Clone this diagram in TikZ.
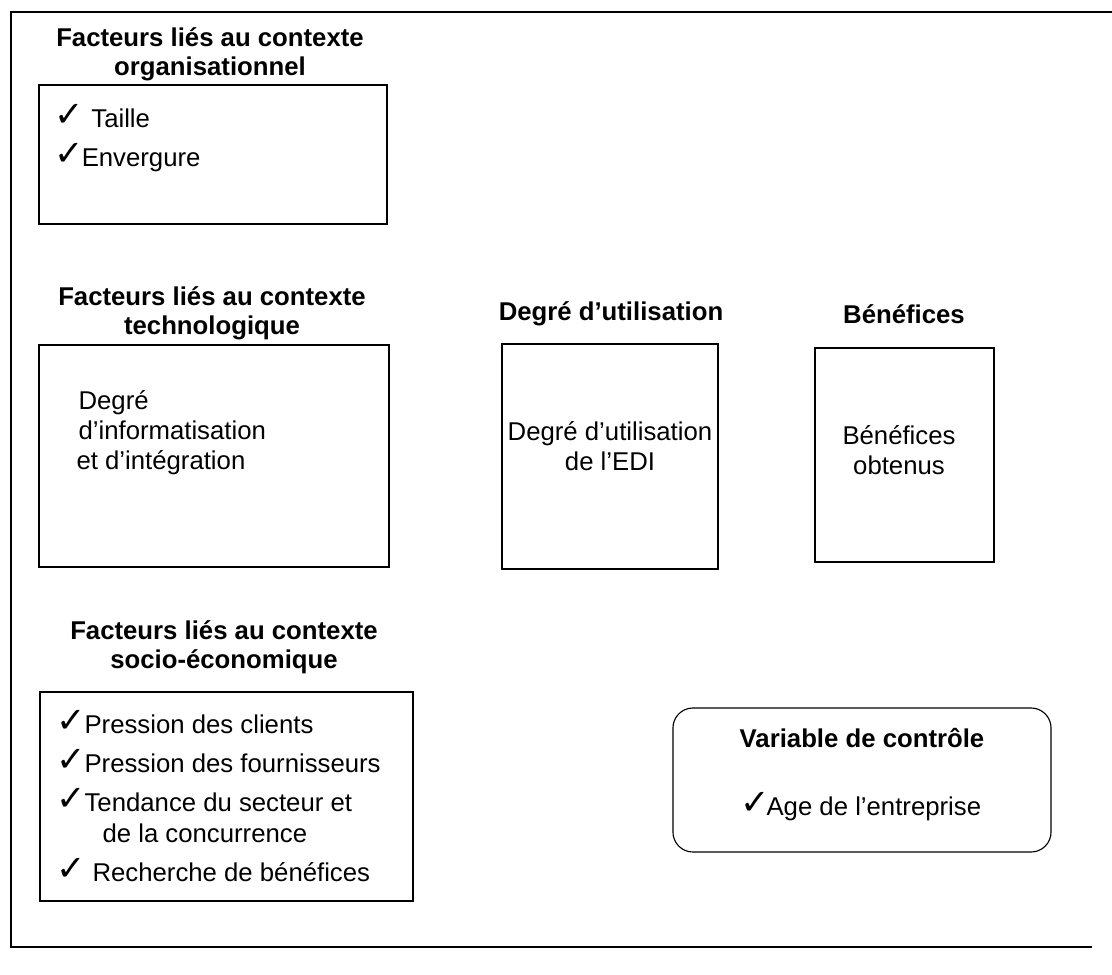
\documentclass[tikz,border=0pt]{standalone}
\usepackage{fontspec}
\setmainfont{Liberation Sans}
\newfontfamily\symbfont{DejaVu Sans}
\newcommand{\coche}{\makebox[0.6cm][l]{\raisebox{0.5pt}{\fontsize{25}{25}\symbfont\char"2713}}}

\begin{document}
\begin{tikzpicture}[x=0.025cm, y=-0.025cm, line width=0.8pt,
        every node/.style={font=\fontsize{18.3}{21.3}\selectfont, inner sep=0pt},
        cadre/.style={draw},
        titre/.style={align=center, font=\bfseries\fontsize{18.3}{20.6}\selectfont},
        item/.style={anchor=base west}]
    \useasboundingbox (0,0) rectangle (1112,974);

    % cadre exterieur (ouvert a droite)
    \draw (1112,12) -- (11,12) -- (11,947) -- (1092,947);

    % contexte organisationnel
    \node[titre] (orgtitre) at (210,54) {Facteurs liés au contexte\\organisationnel};
    \node[cadre, minimum width=8.7cm, minimum height=3.475cm] (orgbox) at (213,154.5) {};
    \node[item] (taille) at (54,127) {\coche\hspace{0.32cm}Taille};
    \node[item] (envergure) at (54,166) {\coche\hspace{0.08cm}Envergure};

    % contexte technologique
    \node[titre] (techtitre) at (212,313) {Facteurs liés au contexte\\technologique};
    \node[cadre, minimum width=8.75cm, minimum height=5.55cm] (techbox) at (214,456) {};
    \node[anchor=west, align=left] (informat) at (76,433) {\hspace{0.05cm}Degré\\\hspace{0.05cm}d’informatisation\\et d’intégration};

    % degre d'utilisation
    \node[titre] (utiltitre) at (611,314) {Degré d’utilisation};
    \node[cadre, minimum width=5.4cm, minimum height=5.625cm] (utilbox) at (610,456.5) {};
    \node[align=center] (edi) at (610,446) {Degré d’utilisation\\de l’EDI};

    % benefices
    \node[titre] (benetitre) at (904,314) {Bénéfices};
    \node[cadre, minimum width=4.475cm, minimum height=5.35cm] (benebox) at (904.5,455) {};
    \node[align=center] (obtenus) at (899,450) {Bénéfices\\obtenus};

    % contexte socio-economique
    \node[titre] (sociotitre) at (224,647) {Facteurs liés au contexte\\socio-économique};
    \node[cadre, minimum width=9.325cm, minimum height=5.225cm] (sociobox) at (226.5,796.5) {};
    \node[item] (clients) at (56,733) {\coche\hspace{0.1cm}Pression des clients};
    \node[item] (fourn) at (56,772) {\coche\hspace{0.1cm}Pression des fournisseurs};
    \node[item] (tendance) at (56,811) {\coche\hspace{0.1cm}Tendance du secteur et};
    \node[item] (concur) at (102,842) {de la concurrence};
    \node[item] (recherche) at (56,881) {\coche\hspace{0.3cm}Recherche de bénéfices};

    % variable de controle
    \node[cadre, rounded corners=0.5cm, minimum width=9.45cm, minimum height=3.6cm] (ctrlbox) at (862,780) {};
    \node[titre] (ctrltitre) at (862,738) {Variable de contrôle};
    \node[item] (age) at (740,815) {\coche\hspace{0.05cm}Age de l’entreprise};
\end{tikzpicture}
\end{document}
